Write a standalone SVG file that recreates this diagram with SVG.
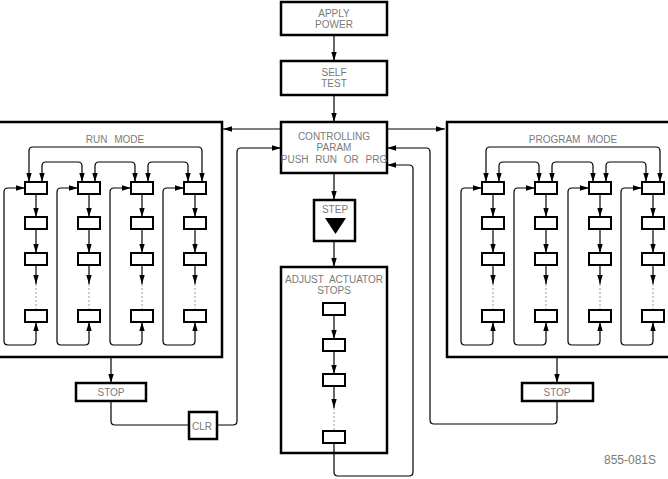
<svg xmlns="http://www.w3.org/2000/svg" width="668" height="479" viewBox="0 0 668 479">
<style>
.box{fill:#fff;stroke:#000;stroke-width:2.5}
.frame{fill:none;stroke:#000;stroke-width:2.5}
.sb{fill:#fff;stroke:#000;stroke-width:2}
.ln{fill:none;stroke:#000;stroke-width:1.2}
.ar{fill:none;stroke:#000;stroke-width:1.2;marker-end:url(#ah)}
.ar2{fill:none;stroke:#000;stroke-width:1.2;marker-end:url(#ah);marker-start:url(#ah)}
.dot{fill:none;stroke:#999;stroke-width:1;stroke-dasharray:2,2}
.t{font-family:"Liberation Sans",Arial,sans-serif;font-size:10px;fill:#7a7a7a;text-anchor:middle}
</style>
<defs>
<marker id="ah" viewBox="0 0 10 10" refX="10" refY="5" markerWidth="9" markerHeight="9" markerUnits="userSpaceOnUse" orient="auto-start-reverse"><path d="M0,2 L10,5 L0,8 Z" fill="#000"/></marker>
</defs>
<rect width="668" height="479" fill="#fff"/>

<g id="connectors">
<path class="ar" d="M334,35 V61"/>
<path class="ar" d="M334,95 V122"/>
<path class="ar" d="M281,129 H223"/>
<path class="ar" d="M387,129 H445"/>
<path class="ar" d="M334,173 V200"/>
<path class="ar" d="M334,241 V267"/>
<path class="ar" d="M111,357 V383"/>
<path class="ar" d="M557,357 V383"/>
<path class="ln" d="M111,401 V421 Q111,425 115,425 H189"/>
<path class="ar" d="M217,425 H233 Q237,425 237,421 V152 Q237,148 241,148 H281"/>
<path class="ar" d="M557,401 V420 Q557,424 553,424 H434 Q430,424 430,420 V152 Q430,148 426,148 H387"/>
<path class="ar" d="M334,444 V472 Q334,476 338,476 H409 Q413,476 413,472 V169 Q413,165 409,165 H387"/>
<!-- adjust actuator chain -->
<path class="ar" d="M334,315 V339"/>
<path class="ar" d="M334,351 V374"/>
<path class="ar" d="M334,386 V408"/>
<path class="dot" d="M334,408 V431"/>
<!-- run mode -->
<path class="ar2" d="M29,182 V151 Q29,147 33,147 H198 Q202,147 202,151 V182"/>
<path class="ar2" d="M42,182 V166 Q42,162 46,162 H78 Q82,162 82,166 V182"/>
<path class="ar2" d="M95,182 V166 Q95,162 99,162 H131 Q135,162 135,166 V182"/>
<path class="ar2" d="M148,182 V166 Q148,162 152,162 H184 Q188,162 188,166 V182"/>
<path class="ar" d="M36,194 V217"/><path class="ar" d="M36,229 V253"/><path class="ar" d="M36,265 V284"/><path class="dot" d="M36,284 V310"/>
<path class="ar" d="M89,194 V217"/><path class="ar" d="M89,229 V253"/><path class="ar" d="M89,265 V284"/><path class="dot" d="M89,284 V310"/>
<path class="ar" d="M142,194 V217"/><path class="ar" d="M142,229 V253"/><path class="ar" d="M142,265 V284"/><path class="dot" d="M142,284 V310"/>
<path class="ar" d="M195,194 V217"/><path class="ar" d="M195,229 V253"/><path class="ar" d="M195,265 V284"/><path class="dot" d="M195,284 V310"/>
<path class="ar2" d="M36,322 V341 Q36,345 32,345 H8 Q4,345 4,341 V192 Q4,188 8,188 H25"/>
<path class="ar2" d="M89,322 V341 Q89,345 85,345 H61 Q57,345 57,341 V192 Q57,188 61,188 H78"/>
<path class="ar2" d="M142,322 V341 Q142,345 138,345 H114 Q110,345 110,341 V192 Q110,188 114,188 H131"/>
<path class="ar2" d="M195,322 V341 Q195,345 191,345 H167 Q163,345 163,341 V192 Q163,188 167,188 H184"/>
<!-- program mode -->
<path class="ar2" d="M486,182 V151 Q486,147 490,147 H656 Q660,147 660,151 V182"/>
<path class="ar2" d="M499,182 V166 Q499,162 503,162 H535 Q539,162 539,166 V182"/>
<path class="ar2" d="M552,182 V166 Q552,162 556,162 H589 Q593,162 593,166 V182"/>
<path class="ar2" d="M606,182 V166 Q606,162 610,162 H642 Q646,162 646,166 V182"/>
<path class="ar" d="M493,194 V217"/><path class="ar" d="M493,229 V253"/><path class="ar" d="M493,265 V284"/><path class="dot" d="M493,284 V310"/>
<path class="ar" d="M546,194 V217"/><path class="ar" d="M546,229 V253"/><path class="ar" d="M546,265 V284"/><path class="dot" d="M546,284 V310"/>
<path class="ar" d="M600,194 V217"/><path class="ar" d="M600,229 V253"/><path class="ar" d="M600,265 V284"/><path class="dot" d="M600,284 V310"/>
<path class="ar" d="M653,194 V217"/><path class="ar" d="M653,229 V253"/><path class="ar" d="M653,265 V284"/><path class="dot" d="M653,284 V310"/>
<path class="ar2" d="M493,322 V341 Q493,345 489,345 H465 Q461,345 461,341 V192 Q461,188 465,188 H482"/>
<path class="ar2" d="M546,322 V341 Q546,345 542,345 H518 Q514,345 514,341 V192 Q514,188 518,188 H535"/>
<path class="ar2" d="M600,322 V341 Q600,345 596,345 H572 Q568,345 568,341 V192 Q568,188 572,188 H589"/>
<path class="ar2" d="M653,322 V341 Q653,345 649,345 H625 Q621,345 621,341 V192 Q621,188 625,188 H642"/>
</g>

<g id="run-mode">
<path class="frame" d="M-2,122 H222 V357 H-2"/>
<text class="t" x="115" y="143" word-spacing="4">RUN MODE</text>
</g>
<g id="run-col1"><rect class="sb" x="25" y="182" width="22" height="12"/><rect class="sb" x="25" y="217" width="22" height="12"/><rect class="sb" x="25" y="253" width="22" height="12"/><rect class="sb" x="25" y="310" width="22" height="12"/></g>
<g id="run-col2"><rect class="sb" x="78" y="182" width="22" height="12"/><rect class="sb" x="78" y="217" width="22" height="12"/><rect class="sb" x="78" y="253" width="22" height="12"/><rect class="sb" x="78" y="310" width="22" height="12"/></g>
<g id="run-col3"><rect class="sb" x="131" y="182" width="22" height="12"/><rect class="sb" x="131" y="217" width="22" height="12"/><rect class="sb" x="131" y="253" width="22" height="12"/><rect class="sb" x="131" y="310" width="22" height="12"/></g>
<g id="run-col4"><rect class="sb" x="184" y="182" width="22" height="12"/><rect class="sb" x="184" y="217" width="22" height="12"/><rect class="sb" x="184" y="253" width="22" height="12"/><rect class="sb" x="184" y="310" width="22" height="12"/></g>

<g id="program-mode">
<path class="frame" d="M670,122 H447 V357 H670"/>
<text class="t" x="573" y="143" word-spacing="4">PROGRAM MODE</text>
</g>
<g id="prg-col1"><rect class="sb" x="482" y="182" width="22" height="12"/><rect class="sb" x="482" y="217" width="22" height="12"/><rect class="sb" x="482" y="253" width="22" height="12"/><rect class="sb" x="482" y="310" width="22" height="12"/></g>
<g id="prg-col2"><rect class="sb" x="535" y="182" width="22" height="12"/><rect class="sb" x="535" y="217" width="22" height="12"/><rect class="sb" x="535" y="253" width="22" height="12"/><rect class="sb" x="535" y="310" width="22" height="12"/></g>
<g id="prg-col3"><rect class="sb" x="589" y="182" width="22" height="12"/><rect class="sb" x="589" y="217" width="22" height="12"/><rect class="sb" x="589" y="253" width="22" height="12"/><rect class="sb" x="589" y="310" width="22" height="12"/></g>
<g id="prg-col4"><rect class="sb" x="642" y="182" width="22" height="12"/><rect class="sb" x="642" y="217" width="22" height="12"/><rect class="sb" x="642" y="253" width="22" height="12"/><rect class="sb" x="642" y="310" width="22" height="12"/></g>

<g id="apply-power"><rect class="box" x="281" y="2" width="106" height="33"/><text class="t" x="334" y="17">APPLY</text><text class="t" x="334" y="28">POWER</text></g>
<g id="self-test"><rect class="box" x="281" y="61" width="106" height="34"/><text class="t" x="334" y="76">SELF</text><text class="t" x="334" y="87">TEST</text></g>
<g id="controlling"><rect class="box" x="281" y="122" width="106" height="51"/><text class="t" x="334" y="140">CONTROLLING</text><text class="t" x="334" y="151">PARAM</text><text class="t" x="334" y="163" word-spacing="4">PUSH RUN OR PRG</text></g>
<g id="step"><rect class="box" x="314" y="200" width="41" height="41"/><text class="t" x="335" y="213">STEP</text><polygon points="325,218 346,218 335.5,234" fill="#000"/></g>
<g id="adjust"><rect class="frame" x="281" y="267" width="106" height="186"/><text class="t" x="334" y="283" word-spacing="3">ADJUST ACTUATOR</text><text class="t" x="334" y="294">STOPS</text>
<rect class="sb" x="323" y="303" width="22" height="12"/><rect class="sb" x="323" y="339" width="22" height="12"/><rect class="sb" x="323" y="374" width="22" height="12"/><rect class="sb" x="323" y="431" width="22" height="12"/></g>
<g id="stop-left"><rect class="box" x="76" y="383" width="70" height="18"/><text class="t" x="111" y="396">STOP</text></g>
<g id="stop-right"><rect class="box" x="522" y="383" width="71" height="18"/><text class="t" x="557" y="396">STOP</text></g>
<g id="clr"><rect class="box" x="189" y="412" width="28" height="27"/><text class="t" x="202" y="429.5">CLR</text></g>
<text class="t" x="630" y="464" style="font-size:12px">855-081S</text>
</svg>
